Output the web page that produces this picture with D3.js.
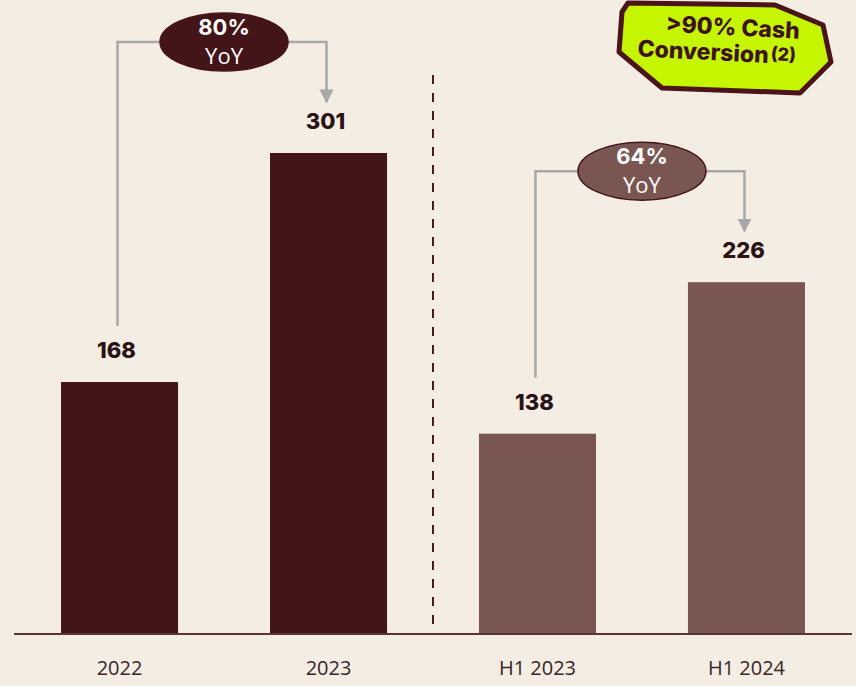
<!DOCTYPE html>
<html>
<head>
<meta charset="utf-8">
<script src="https://cdn.jsdelivr.net/npm/d3@7"></script>
<style>
  body { margin: 0; background: #f4ede4; }
  svg { display: block; }
</style>
</head>
<body>
<div id="chart"></div>
<script>
// data
var categories = ["2022", "2023", "H1 2023", "H1 2024"];
var values = [168, 301, 138, 226];
var colors = ["#431518", "#431518", "#7a5652", "#7a5652"];
var growth = [{from: 0, to: 1, label: "80%", fill: "#431518"},
              {from: 2, to: 3, label: "64%", fill: "#7a5652"}];
var badgeLines = [">90% Cash", "Conversion"];

var width = 856, height = 686;
var baseY = 634;

var svg = d3.select("#chart")
    .append("svg")
        .attr("width", width)
        .attr("height", height)
        .style("background", "#f4ede4");

// x scale: the bands
var x = d3.scaleBand()
    .domain(categories)
    .range([14, 852])
    .paddingInner(0.44)
    .paddingOuter(0.225);
// bars in the reference do not start from zero
var y = d3.scaleLinear()
    .domain([21.7, 301])
    .range([baseY, 153]);

// bars
svg.selectAll(".bar")
    .data(values)
    .join("rect")
        .attr("class", "bar")
        .attr("x", (d, i) => x(categories[i]))
        .attr("y", d => y(d))
        .attr("width", x.bandwidth())
        .attr("height", d => baseY - y(d))
        .style("fill", (d, i) => colors[i]);

// value labels
svg.selectAll(".val")
    .data(values)
    .join("text")
        .attr("class", "val")
        .attr("x", (d, i) => x(categories[i]) + x.bandwidth() / 2 - 3)
        .attr("y", d => y(d) - 24)
        .attr("text-anchor", "middle")
        .style("font-family", "Inter, 'Noto Sans', sans-serif")
        .style("font-weight", 800)
        .style("font-size", "22px")
        .style("fill", "#2a1215")
        .text(d => d);

// baseline + category labels
var xAxis = svg.append("g")
    .attr("transform", "translate(0," + baseY + ")")
    .call(d3.axisBottom(x).tickSize(0).tickPadding(27));
xAxis.select(".domain")
    .attr("d", "M14,0H852")
    .attr("stroke", "#5a3636")
    .attr("stroke-width", 2);
xAxis.selectAll("text")
    .style("font-family", "'Open Sans', sans-serif")
    .style("font-size", "20px")
    .style("fill", "#3a2526");

// dashed divider between full year and half year
var midX = (x(categories[1]) + x.bandwidth() + x(categories[2])) / 2;
svg.append("line")
    .attr("x1", midX).attr("x2", midX)
    .attr("y1", 75).attr("y2", baseY - 4)
    .attr("stroke", "#4a1a1d")
    .attr("stroke-width", 2)
    .attr("stroke-dasharray", "9,9");

// growth brackets
var defs = svg.append("defs");
defs.append("marker")
    .attr("id", "arrow")
    .attr("viewBox", "0 0 10 10")
    .attr("refX", 9).attr("refY", 5)
    .attr("markerWidth", 14).attr("markerHeight", 16)
    .attr("markerUnits", "userSpaceOnUse")
    .attr("orient", "auto")
    .append("path")
        .attr("d", "M0,0L10,5L0,10Z")
        .attr("fill", "#a8a8a8");

growth.forEach(function(g) {
    var x1 = x(categories[g.from]) + x.bandwidth() / 2 - 2;
    var x2 = x(categories[g.to]) + x.bandwidth() / 2 - 2;
    var yStart = y(values[g.from]) - 56;
    var yEnd = y(values[g.to]) - 51;
    var top = y(values[g.to]) - 111;
    var cx = (x1 + x2) / 2 + 2;

    svg.append("path")
        .attr("d", "M" + x1 + "," + yStart + "V" + top + "H" + x2 + "V" + yEnd)
        .attr("fill", "none")
        .attr("stroke", "#a8a8a8")
        .attr("stroke-width", 2.5)
        .attr("marker-end", "url(#arrow)");
    svg.append("ellipse")
        .attr("cx", cx).attr("cy", top)
        .attr("rx", 64).attr("ry", 29)
        .attr("fill", g.fill)
        .attr("stroke", "#431518")
        .attr("stroke-width", 1.5);
    svg.append("text")
        .attr("x", cx).attr("y", top - 7)
        .attr("text-anchor", "middle")
        .style("font-family", "Inter, 'Noto Sans', sans-serif")
        .style("font-weight", 700)
        .style("font-size", "22px")
        .style("fill", "#ffffff")
        .text(g.label);
    svg.append("text")
        .attr("x", cx).attr("y", top + 22)
        .attr("text-anchor", "middle")
        .style("font-family", "'Open Sans', sans-serif")
        .style("font-size", "22px")
        .style("fill", "#ffffff")
        .text("YoY");
});

// badge top right
var badge = svg.append("g");
badge.append("path")
    .attr("d", "M628,3L775,5L823,25L831,62L800,93L662,88L619,52L622,12Z")
    .attr("fill", "#c5f500")
    .attr("stroke", "#4a1418")
    .attr("stroke-width", 5)
    .attr("stroke-linejoin", "round");
var bt = badge.append("g").attr("transform", "rotate(3,728,42)");
bt.append("text")
    .attr("x", 732).attr("y", 35)
    .attr("text-anchor", "middle")
    .style("font-family", "Inter, 'Noto Sans', sans-serif")
    .style("font-weight", 800)
    .style("font-size", "23px")
    .style("fill", "#3f1418")
    .text(badgeLines[0]);
var t2 = bt.append("text")
    .attr("x", 638).attr("y", 61)
    .style("font-family", "Inter, 'Noto Sans', sans-serif")
    .style("font-weight", 800)
    .style("font-size", "23px")
    .style("fill", "#3f1418")
    .text(badgeLines[1]);
t2.append("tspan")
    .attr("dx", 2)
    .attr("dy", -3)
    .style("font-size", "18px")
    .text("(2)");
</script>
</body>
</html>
